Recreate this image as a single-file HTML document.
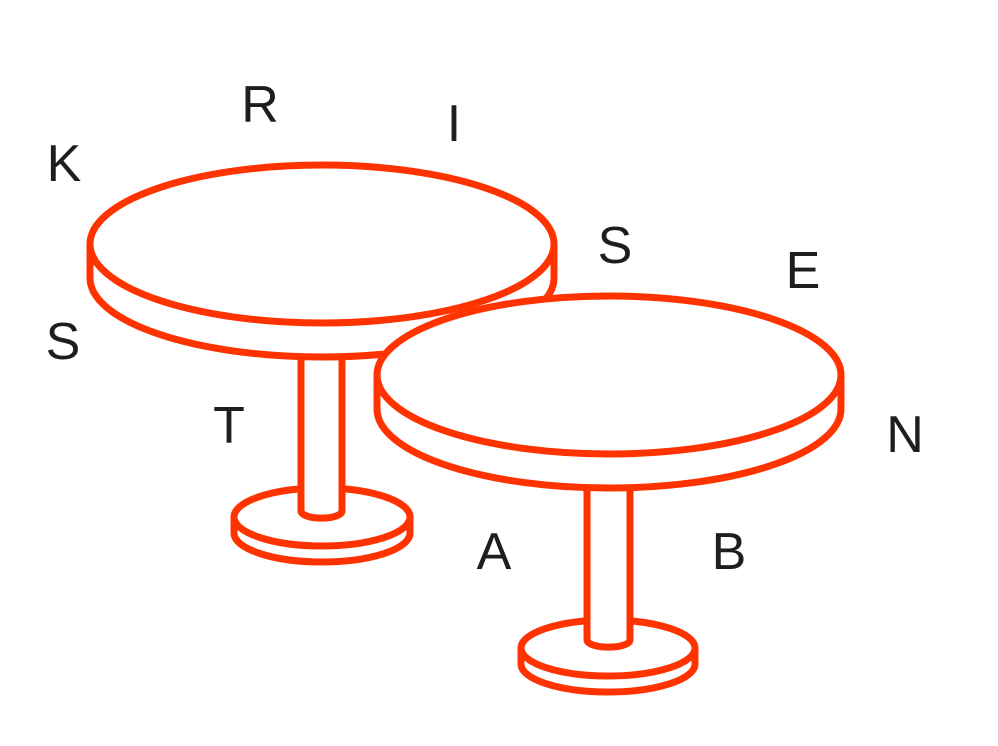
<!DOCTYPE html>
<html><head><meta charset="utf-8"><style>
html,body{margin:0;padding:0;background:#fff;}
svg{display:block;}
text{font-family:"Liberation Sans",sans-serif;font-size:52px;fill:#1e1e1e;text-anchor:middle;}
</style></head><body>
<svg width="998" height="746" viewBox="0 0 998 746">
<g fill="#fff" stroke="#FF3300" stroke-width="7" stroke-linejoin="round">
  <g>
    <path d="M234,517 L234,533 A88,29 0 0 0 410,533 L410,517 Z"/>
    <ellipse cx="322" cy="517" rx="88" ry="29"/>
    <path d="M301,350 L301,511 A20,7 0 0 0 342,511 L342,350 Z"/>
    <path d="M90,244 L90,278 A232,79 0 0 0 554,278 L554,244 Z"/>
    <ellipse cx="322" cy="244" rx="232" ry="79"/>
  </g>
  <g>
    <path d="M521,648 L521,664 A87,28 0 0 0 695,664 L695,648 Z"/>
    <ellipse cx="608" cy="648" rx="87" ry="28"/>
    <path d="M587,480 L587,640 A21,7 0 0 0 630,640 L630,480 Z"/>
    <path d="M377,375 L377,409 A232,79 0 0 0 841,409 L841,375 Z"/>
    <ellipse cx="609" cy="375" rx="232" ry="79"/>
  </g>
</g>
<g>
  <text x="64" y="181">K</text>
  <text x="260" y="122">R</text>
  <text x="454" y="141">I</text>
  <text x="615" y="263">S</text>
  <text x="803" y="288">E</text>
  <text x="63" y="359">S</text>
  <text x="229" y="443">T</text>
  <text x="905" y="452">N</text>
  <text x="494" y="569">A</text>
  <text x="729" y="569">B</text>
</g>
</svg>
</body></html>
